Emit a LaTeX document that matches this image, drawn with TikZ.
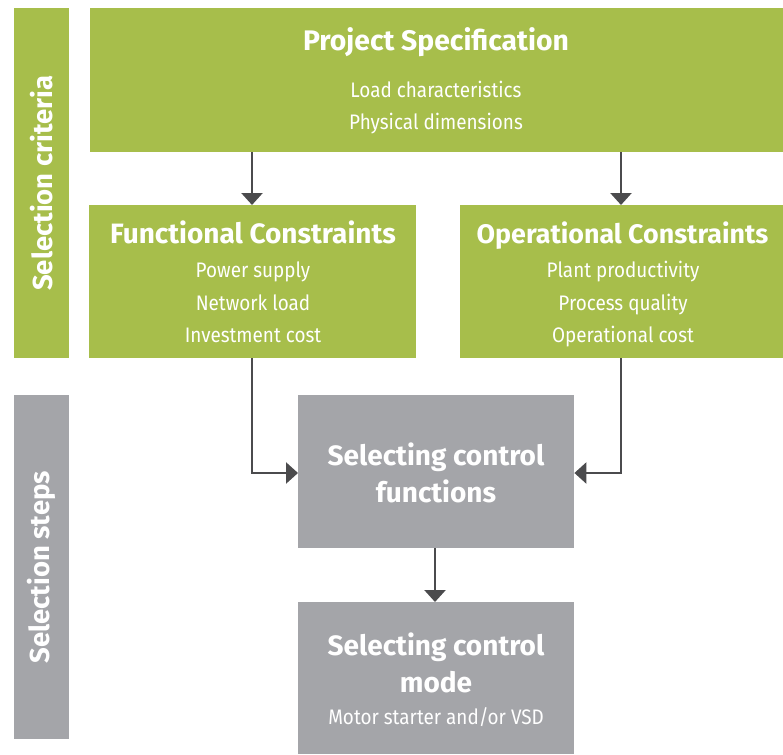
\documentclass[tikz,border=0pt]{standalone}
\usepackage{fontspec}
\setmainfont{Fira Sans}
\newfontfamily\subfont[FakeStretch=0.9]{Fira Sans}
\usetikzlibrary{arrows.meta}
\definecolor{sgreen}{HTML}{A7BE4B}
\definecolor{sgray}{HTML}{A4A5A9}
\definecolor{sarrow}{HTML}{4B4B4D}
\tikzset{
  greenbox/.style={fill=sgreen, draw=none, inner sep=0pt},
  graybox/.style={fill=sgray, draw=none, inner sep=0pt},
  ttl/.style={text=white, font=\fontsize{28}{30}\selectfont\bfseries, inner sep=0pt, anchor=base},
  bigttl/.style={ttl, font=\fontsize{28.3}{30}\selectfont\bfseries},
  narrowttl/.style={ttl, font=\fontsize{26.8}{30}\selectfont\bfseries},
  sub/.style={text=white, font=\fontsize{21}{24}\subfont, inner sep=0pt, anchor=base},
  side/.style={text=white, font=\fontsize{27.5}{30}\selectfont\bfseries, inner sep=0pt, rotate=90},
  conn/.style={draw=sarrow, line width=2.6pt, -{Triangle[width=21pt,length=12pt]}},
}
\begin{document}
\begin{tikzpicture}[x=1pt,y=-1pt]
\useasboundingbox (0,0) rectangle (783,754);
% side bands
\node[greenbox, minimum width=55pt, minimum height=350pt, anchor=north west] (scb) at (14,8) {};
\node[side] (sc) at (scb.center) {Selection criteria};
\node[graybox, minimum width=55pt, minimum height=344pt, anchor=north west] (ssb) at (14,395) {};
\node[side] (ss) at (ssb.center) {Selection steps};
% boxes
\node[greenbox, minimum width=693pt, minimum height=144pt, anchor=north west] (ps) at (90,8) {};
\node[greenbox, minimum width=327pt, minimum height=153pt, anchor=north west] (fc) at (89,205) {};
\node[greenbox, minimum width=323pt, minimum height=153pt, anchor=north west] (oc) at (460,205) {};
\node[graybox, minimum width=276pt, minimum height=153pt, anchor=north west] (cf) at (298,395) {};
\node[graybox, minimum width=276pt, minimum height=152pt, anchor=north west] (cm) at (298,602) {};
% texts
\node[bigttl] (pst) at (436,51) {Project Specification};
\node[sub] (ps1) at (436,98) {Load characteristics};
\node[sub] (ps2) at (436,130) {Physical dimensions};
\node[ttl] (fct) at (253,243) {Functional Constraints};
\node[sub] (fc1) at (253,277) {Power supply};
\node[sub] (fc2) at (253,310) {Network load};
\node[sub] (fc3) at (253,342) {Investment cost};
\node[narrowttl] (oct) at (622.5,243) {Operational Constraints};
\node[sub] (oc1) at (623,277) {Plant productivity};
\node[sub] (oc2) at (623,310) {Process quality};
\node[sub] (oc3) at (623,342) {Operational cost};
\node[ttl] (cft1) at (436,465) {Selecting control};
\node[ttl] (cft2) at (436,502) {functions};
\node[ttl] (cmt1) at (436,655) {Selecting control};
\node[ttl] (cmt2) at (436,692) {mode};
\node[sub] (cm1) at (436,724) {Motor starter and/or VSD};
% connector guides
\coordinate (xl) at (252,0);
\coordinate (xr) at (621,0);
\coordinate (xm) at (435,0);
\coordinate (yj) at (0,473);
% connectors
\draw[conn] (ps.south -| xl) -- (fc.north -| xl);
\draw[conn] (ps.south -| xr) -- (oc.north -| xr);
\draw[conn] (fc.south -| xl) |- (cf.west |- yj);
\draw[conn] (oc.south -| xr) |- (cf.east |- yj);
\draw[conn] (cf.south -| xm) -- (cm.north -| xm);
\end{tikzpicture}
\end{document}
